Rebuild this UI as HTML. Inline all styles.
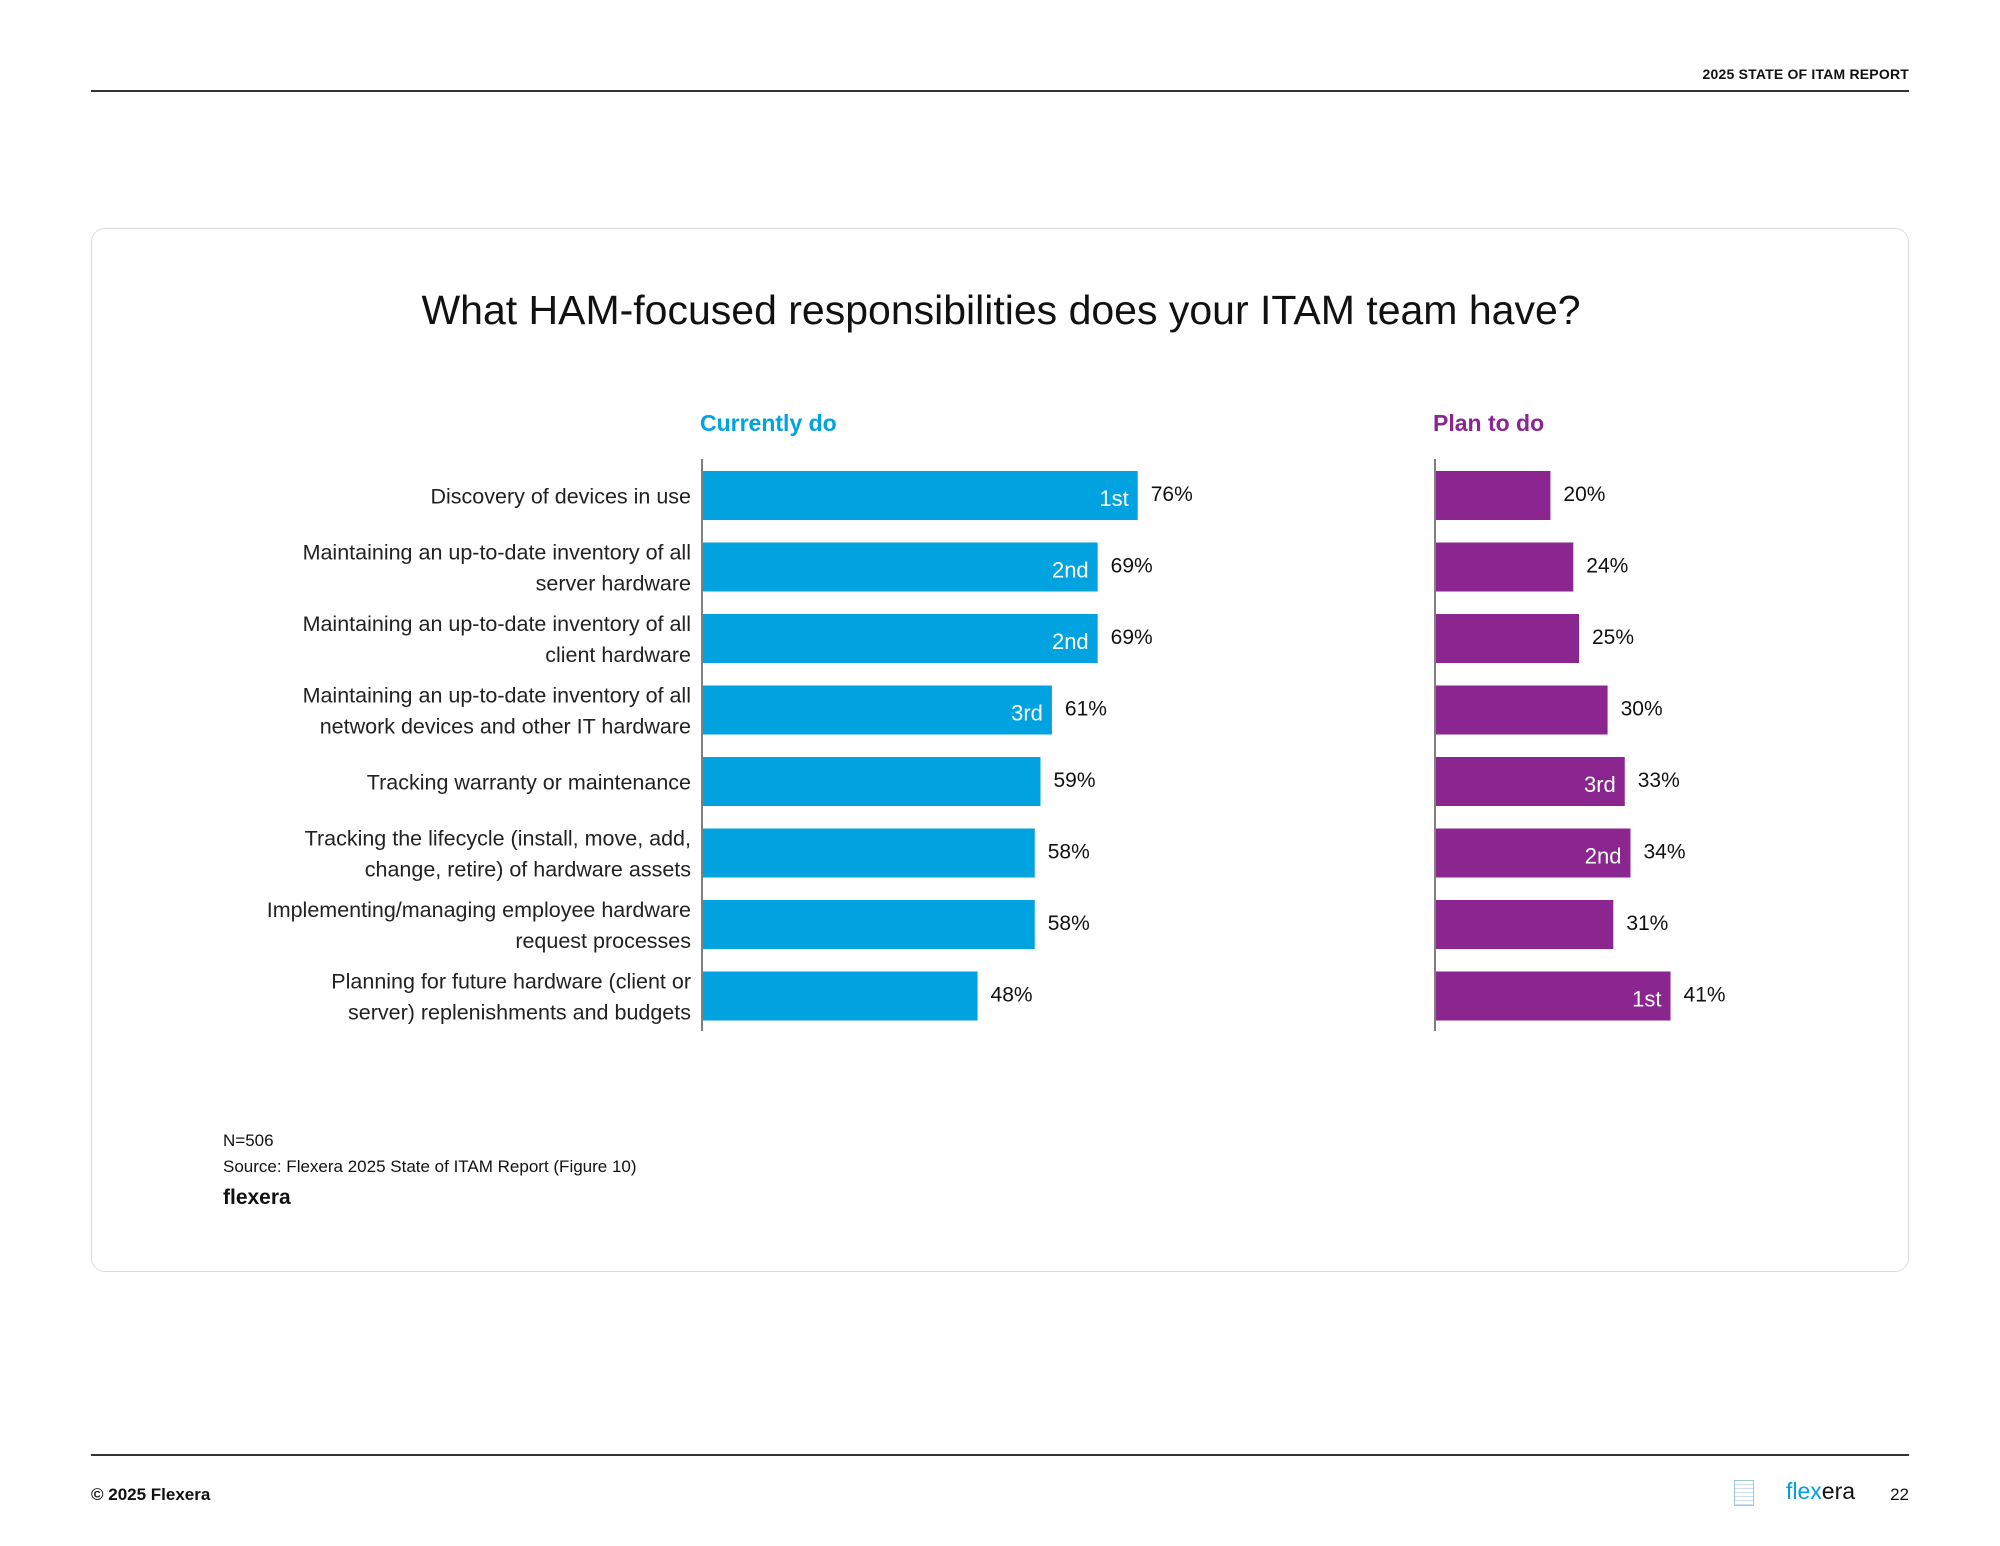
<!DOCTYPE html>
<html><head><meta charset="utf-8">
<style>
body{margin:0;width:2000px;height:1546px;background:#fff;font-family:"Liberation Sans",sans-serif;position:relative;overflow:hidden;color:#111}
.abs{position:absolute}
</style></head><body>
<div class="abs" style="right:91px;top:66px;font-size:14px;font-weight:bold;letter-spacing:0.2px">2025 STATE OF ITAM REPORT</div>
<div class="abs" style="left:91px;top:90px;width:1818px;height:1.5px;background:#333"></div>
<div class="abs" style="left:91px;top:228px;width:1816px;height:1042px;border:1.5px solid #ddd;border-radius:14px"></div>
<div class="abs" style="left:0;width:2002px;top:287px;text-align:center;font-size:41px">What HAM-focused responsibilities does your ITAM team have?</div>
<svg class="abs" style="left:0;top:0" width="2000" height="1546" id="chart"></svg>
<div class="abs" style="left:223px;top:1131px;font-size:17px">N=506</div>
<div class="abs" style="left:223px;top:1157px;font-size:17px">Source: Flexera 2025 State of ITAM Report (Figure 10)</div>
<div class="abs" style="left:223px;top:1186px;font-size:21px;font-weight:bold">flexera</div>
<div class="abs" style="left:91px;top:1454px;width:1818px;height:1.5px;background:#333"></div>
<div class="abs" style="left:91px;top:1485px;font-size:17px;font-weight:bold">© 2025 Flexera</div>
<div class="abs" style="left:1734px;top:1480px;width:18px;height:24px;border:1px solid #9cc;background:repeating-linear-gradient(#fff 0 3px,#cde 3px 4px)"></div>
<div class="abs" style="left:1786px;top:1478px;font-size:23px"><span style="color:#00a0df">flex</span>era</div>
<div class="abs" style="right:91px;top:1485px;font-size:17px">22</div>
<script>
const categories=[["Discovery of devices in use"],["Maintaining an up-to-date inventory of all","server hardware"],["Maintaining an up-to-date inventory of all","client hardware"],["Maintaining an up-to-date inventory of all","network devices and other IT hardware"],["Tracking warranty or maintenance"],["Tracking the lifecycle (install, move, add,","change, retire) of hardware assets"],["Implementing/managing employee hardware","request processes"],["Planning for future hardware (client or","server) replenishments and budgets"]];
const currentValues=[76,69,69,61,59,58,58,48];
const planValues=[20,24,25,30,33,34,31,41];
const currentRanks=["1st","2nd","2nd","3rd","","","",""];
const planRanks=["","","","","3rd","2nd","","1st"];
const svg=document.getElementById('chart');
const NS='http://www.w3.org/2000/svg';
const unit=5.72, rowTop=471, pitch=71.5, barH=49;
function y(i){return rowTop+i*pitch;}
function mk(tag,attrs,txt){const e=document.createElementNS(NS,tag);for(const k in attrs)e.setAttribute(k,attrs[k]);if(txt!==undefined)e.textContent=txt;svg.appendChild(e);return e;}
function series(x0,vals,ranks,color,name,head){
  const h=mk('text',{x:x0-2,y:431,'font-size':23,'font-weight':'bold',fill:color,'font-family':'Liberation Sans'},head);
  
  
  const ax=mk('line',{x1:x0,x2:x0,y1:459,y2:1031,stroke:'#555','stroke-width':1.5});
  
  
  vals.forEach((v,i)=>{
    const w=v*unit;
    const r=mk('rect',{x:x0+1,y:y(i),width:w,height:barH,fill:color});
    
    
    const t=mk('text',{x:x0+w+14,y:y(i)+30,'font-size':21,fill:'#111','font-family':'Liberation Sans'},v+'%');
    
    
    if(ranks[i]){
      const k=mk('text',{x:x0+w-8,y:y(i)+35,'font-size':22,fill:'#fff','text-anchor':'end','font-family':'Liberation Sans'},ranks[i]);
      
      
    }
  });
}
categories.forEach((lines,i)=>{
  const cy=y(i)+barH/2;
  const n=lines.length;
  lines.forEach((ln,j)=>{
    const t=mk('text',{x:691,y:cy+8+(j-(n-1)/2)*31,'font-size':21.5,'text-anchor':'end',fill:'#222','font-family':'Liberation Sans'},ln);
    
    
  });
});
series(702,currentValues,currentRanks,'#00a3e0','current','Currently do');
series(1435,planValues,planRanks,'#8b2590','plan','Plan to do');
</script>
</body></html>
